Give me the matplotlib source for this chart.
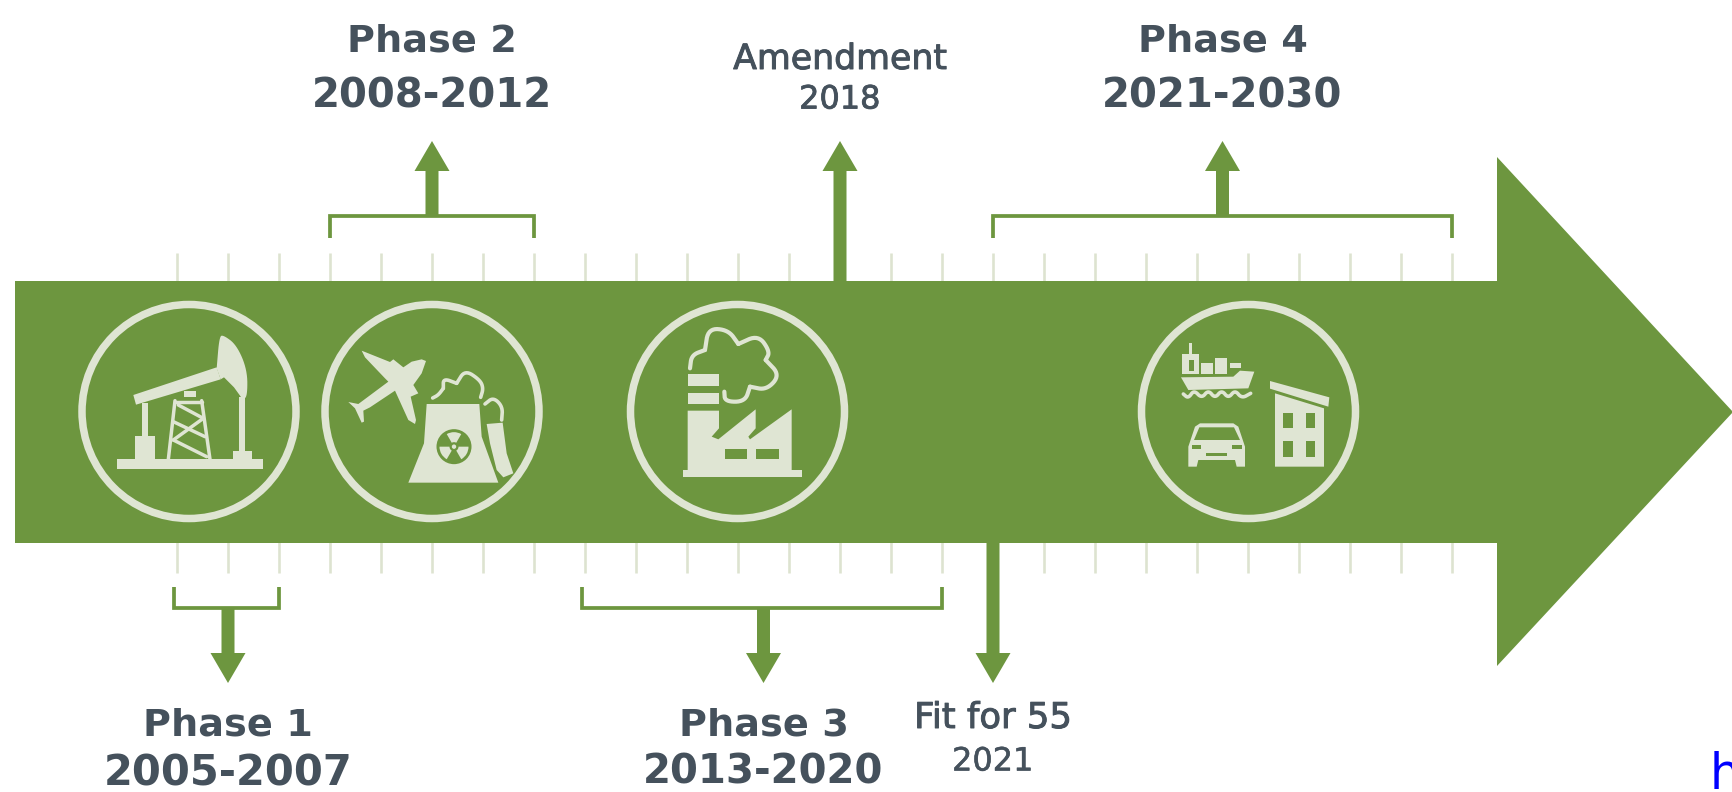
import numpy as np
import matplotlib
matplotlib.use('Agg')
import matplotlib.pyplot as plt
import matplotlib.patheffects as pe
from matplotlib.patches import Polygon, Circle, Wedge

# timeline data
tick_years = list(range(2005, 2031))
upper_phases = ['Phase 2', 'Phase 4']
upper_labels = ['2008-2012', '2021-2030']
upper_start = [2008, 2021]
upper_end = [2012, 2030]
lower_phases = ['Phase 1', 'Phase 3']
lower_labels = ['2005-2007', '2013-2020']
lower_start = [2005, 2013]
lower_end = [2007, 2020]
amend_year = 2018
amend_labels = ['Amendment', '2018']
fit_year = 2021
fit_labels = ['Fit for 55', '2021']

GREEN = '#6d963f'
LIGHT = '#dfe5d3'
TICK = '#dde3d0'
DARK = '#45515c'

W, H = 1733, 792
fig = plt.figure(figsize=(W / 100, H / 100), dpi=100, facecolor='white')

# years on x, pixels on y
PX_YEAR = 51.0
tl = fig.add_axes([0, 0, 1, 1], zorder=1)
tl.set_xlim(2005 - 177 / PX_YEAR, 2005 + (W - 177) / PX_YEAR)
tl.set_ylim(H, 0)
tl.axis('off')

# plain pixels, for the big arrow and the icons
ax = fig.add_axes([0, 0, 1, 1], zorder=2)
ax.set_xlim(0, W)
ax.set_ylim(H, 0)
ax.axis('off')
ax.patch.set_alpha(0)

tl.vlines(tick_years, 253, 573, color=TICK, lw=1.9, zorder=0.5)

ax.add_patch(Polygon([(15, 281), (1497, 281), (1497, 157), (1733, 412),
                      (1497, 666), (1497, 543), (15, 543)], color=GREEN, lw=0))


def v_arrow(year, y0, y1, ybase):
    # shaft from y0 to ybase, head from ybase to y1
    s = 6.5 / PX_YEAR
    h = 17.5 / PX_YEAR
    tl.add_patch(Polygon([(year - s, y0), (year + s, y0), (year + s, ybase), (year + h, ybase),
                          (year, y1), (year - h, ybase), (year - s, ybase)],
                         color=GREEN, lw=0, zorder=2))


def bracket(start, end, ystub, ybar):
    tl.plot([start, start, end, end], [ystub, ybar, ybar, ystub], color=GREEN, lw=2.7,
            solid_joinstyle='miter', solid_capstyle='butt')


for s, e in zip(upper_start, upper_end):
    bracket(s, e, 238, 216)
    v_arrow((s + e) / 2, 216, 141, 171)
for s, e in zip(lower_start, lower_end):
    bracket(s - 0.05, e, 587, 608)
    v_arrow((s + e) / 2, 608, 683, 653)
v_arrow(amend_year, 285, 141, 171)
v_arrow(fit_year, 540, 683, 653)


def label(year, y, txt, size, weight='bold', stroke=0):
    t = tl.text(year, y, txt, ha='center', va='center', fontsize=size, weight=weight,
                color=DARK, family='DejaVu Sans')
    if stroke:
        t.set_path_effects([pe.withStroke(linewidth=stroke, foreground=DARK)])


for n, l, s, e in zip(upper_phases, upper_labels, upper_start, upper_end):
    label((s + e) / 2, 42, n, 27.5)
    label((s + e) / 2, 96, l, 29)
for n, l, s, e, sz in zip(lower_phases, lower_labels, lower_start, lower_end, [30, 29]):
    label((s + e) / 2, 725, n, 27.5)
    label((s + e) / 2, 773, l, sz)
label(amend_year, 59, amend_labels[0], 25, 'normal', 0.7)
label(amend_year, 100, amend_labels[1], 23, 'normal', 0.6)
label(fit_year, 718, fit_labels[0], 25.5, 'normal', 0.7)
label(fit_year, 762, fit_labels[1], 23, 'normal', 0.4)

# stray link letter cut by the crop
ax.text(1710, 789, 'h', color='#0000ff', fontsize=35, ha='left', va='baseline', clip_on=True)


def zp(ox, oy, pts):
    return [(ox + x / 3, oy + y / 3) for x, y in pts]


def smooth(pts, n=3):
    p = np.array(pts, dtype=float)
    for _ in range(n):
        q = p[:-1] * 0.75 + p[1:] * 0.25
        r = p[:-1] * 0.25 + p[1:] * 0.75
        m = np.empty((len(q) * 2, 2))
        m[0::2] = q
        m[1::2] = r
        p = np.vstack([p[:1], m, p[-1:]])
    return p


def poly(ox, oy, pts, color=LIGHT):
    ax.add_patch(Polygon(zp(ox, oy, pts), closed=True, color=color, lw=0))


def box(ox, oy, x0, y0, x1, y1, color=LIGHT):
    poly(ox, oy, [(x0, y0), (x1, y0), (x1, y1), (x0, y1)], color)


def line(ox, oy, pts, lw=1.5, curve=False, color=LIGHT):
    p = np.array(zp(ox, oy, pts))
    if curve:
        p = smooth(p)
    ax.plot(p[:, 0], p[:, 1], color=color, lw=lw, solid_capstyle='round')


# rings
for cx in [189, 432, 737.5, 1248.5]:
    ax.add_patch(Circle((cx, 411.5), 107, fill=False, ec=LIGHT, lw=5.4))

# pump jack
o = (60, 280)
box(*o, 170, 538, 610, 566)
box(*o, 225, 468, 285, 540)
box(*o, 520, 512, 575, 540)
poly(*o, [(220, 345), (470, 262), (482, 298), (228, 374)])
head = smooth([(470, 265), (478, 170), (490, 165), (530, 195), (562, 270), (562, 350), (548, 358)], 3)
poly(*o, [tuple(q) for q in head] + [(522, 322), (492, 292), (482, 298)])
box(*o, 246, 370, 264, 470)
box(*o, 537, 350, 554, 515)
box(*o, 372, 332, 408, 352)
for pts in [[(345, 362), (325, 538)], [(425, 362), (450, 538)], [(345, 365), (425, 365)],
            [(355, 375), (430, 415)], [(430, 415), (340, 480)], [(340, 480), (440, 530)],
            [(340, 425), (435, 470)]]:
    line(*o, pts, lw=2.5)

# plane
poly(*o, [(1098, 243), (1085, 238), (1055, 245), (1030, 262), (1000, 238), (990, 246), (905, 212),
          (915, 232), (975, 295), (985, 305), (895, 372), (865, 366), (885, 385), (905, 428),
          (912, 425), (910, 392), (930, 382), (1005, 332), (1045, 420), (1065, 432), (1068, 420),
          (1052, 350), (1075, 340), (1060, 315), (1085, 280)])
# cooling tower with radiation sign
poly(*o, [(1100, 372), (1258, 372), (1265, 470), (1315, 608), (1045, 608), (1092, 490)])
rc = zp(*o, [(1182, 500)])[0]
ax.add_patch(Circle(rc, 17.5, fc=GREEN, lw=0))
for a in [30, 150, 270]:
    ax.add_patch(Wedge(rc, 14.5, a - 30, a + 30, width=10, color=LIGHT, lw=0))
ax.add_patch(Circle(rc, 2.2, color=LIGHT, lw=0))
for pts in [[(1118, 354), (1135, 345), (1150, 325)],
            [(1150, 325), (1150, 295), (1190, 310)],
            [(1190, 310), (1215, 270), (1260, 300), (1270, 325), (1262, 352)]]:
    line(*o, pts, lw=2.6, curve=True)
poly(*o, [(1280, 432), (1328, 428), (1340, 520), (1360, 580), (1330, 592), (1310, 570), (1290, 490)])
line(*o, [(1275, 372), (1300, 352), (1328, 380), (1325, 420)], lw=2.6, curve=True)

# factory
o = (610, 280)
box(*o, 218, 570, 575, 590)
poly(*o, [(233, 392), (327, 392), (327, 445), (305, 470), (325, 478), (437, 388), (437, 445),
          (415, 470), (420, 478), (545, 388), (545, 572), (233, 572)])
box(*o, 345, 508, 412, 538, GREEN)
box(*o, 438, 508, 508, 538, GREEN)
box(*o, 233, 283, 327, 318)
box(*o, 233, 338, 327, 372)
for pts in [[(240, 265), (245, 225), (285, 210)],
            [(285, 210), (295, 145), (355, 150), (385, 192)],
            [(385, 192), (445, 165), (480, 215), (467, 240)],
            [(467, 240), (510, 285), (470, 330), (420, 320)],
            [(420, 320), (405, 365), (345, 365), (343, 335)]]:
    line(*o, pts, lw=3.0, curve=True)

# ship, car, building
o = (1120, 280)
poly(*o, [(183, 292), (340, 290), (360, 272), (403, 275), (385, 325), (205, 330)])
box(*o, 185, 222, 238, 282)
box(*o, 206, 188, 216, 222)
box(*o, 207, 240, 222, 272, GREEN)
box(*o, 243, 250, 278, 282)
box(*o, 285, 235, 322, 282)
box(*o, 330, 248, 362, 265)
line(*o, [(190, 342), (205, 355), (222, 330), (245, 355), (265, 330), (285, 355), (305, 330),
          (325, 355), (345, 330), (365, 355), (392, 340)], lw=2.6, curve=True)
poly(*o, [(205, 560), (205, 500), (225, 440), (240, 430), (340, 430), (355, 440), (375, 500),
          (375, 560), (350, 560), (345, 540), (235, 540), (230, 560)])
poly(*o, [(222, 480), (238, 442), (342, 442), (360, 480)], GREEN)
box(*o, 215, 495, 243, 506, GREEN)
box(*o, 337, 495, 365, 506, GREEN)
box(*o, 258, 520, 320, 527, GREEN)
poly(*o, [(465, 340), (612, 385), (612, 560), (465, 560)])
poly(*o, [(450, 303), (628, 352), (625, 380), (450, 326)])
for x0, x1 in [(490, 520), (558, 585)]:
    for y0, y1 in [(398, 445), (483, 530)]:
        box(*o, x0, y0, x1, y1, GREEN)

plt.savefig('out.png', dpi=100, facecolor='white')
